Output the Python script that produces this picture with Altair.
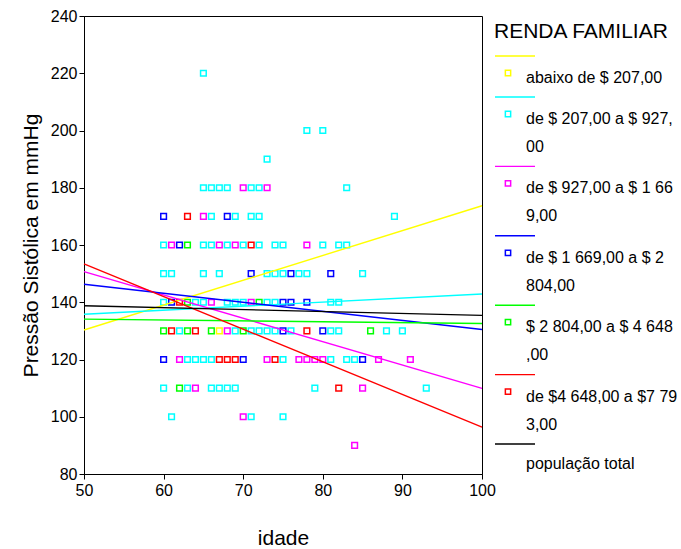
import altair as alt
import pandas as pd

# Income groups (RENDA FAMILIAR) and their colours
groups = [
    "abaixo de $ 207,00",
    "de $ 207,00 a $ 927,00",
    "de $ 927,00 a $ 1 669,00",
    "de $ 1 669,00 a $ 2 804,00",
    "$ 2 804,00 a $ 4 648,00",
    "de $4 648,00 a $7 793,00",
]
total_label = "população total"
colors = ["#FFFF00", "#00FFFF", "#FF00FF", "#0000FF", "#00FF00", "#FF0000"]

# Observations per group: age (idade) and systolic pressure (mmHg)
age_g0 = [67]
pas_g0 = [130]

age_g1 = [65, 78, 80, 73,
          65, 66, 67, 68, 71, 72, 83,
          66, 69, 71, 72, 89,
          60, 65, 66, 68, 70, 72, 74, 75, 80, 82, 83,
          60, 61, 65, 67, 73, 74, 75, 77, 78, 85,
          60, 64, 65, 68, 69, 70, 73, 74, 81, 82,
          62, 69, 71, 72, 73, 74, 76, 81, 82, 88, 90,
          63, 64, 65, 66, 75, 81, 83, 84,
          60, 63, 66, 67, 68, 69, 79, 93,
          61, 71, 75]
pas_g1 = [220, 200, 200, 190,
          180, 180, 180, 180, 180, 180, 180,
          170, 170, 170, 170, 170,
          160, 160, 160, 160, 160, 160, 160, 160, 160, 160, 160,
          150, 150, 150, 150, 150, 150, 150, 150, 150, 150,
          140, 140, 140, 140, 140, 140, 140, 140, 140, 140,
          130, 130, 130, 130, 130, 130, 130, 130, 130, 130, 130,
          120, 120, 120, 120, 120, 120, 120, 120,
          110, 110, 110, 110, 110, 110, 110, 110,
          100, 100, 100]

age_g2 = [70, 73, 65, 61, 67, 69, 78, 66, 71, 68,
          62, 73, 77, 78, 79, 80, 87, 91, 64, 85, 70, 84]
pas_g2 = [180, 180, 170, 160, 160, 160, 160, 140, 140, 130,
          120, 120, 120, 120, 120, 120, 120, 120, 110, 110, 100, 90]

age_g3 = [60, 68, 62, 71, 76, 81, 61, 75, 76, 78, 75, 80, 60, 70, 85]
pas_g3 = [170, 170, 160, 150, 150, 150, 140, 140, 140, 140, 130, 130, 120, 120, 120]

age_g4 = [63, 63, 72, 60, 63, 66, 70, 86, 62]
pas_g4 = [160, 140, 140, 130, 130, 130, 130, 130, 110]

age_g5 = [63, 71, 62, 61, 64, 78, 67, 68, 69, 74, 82]
pas_g5 = [170, 160, 140, 130, 130, 130, 120, 120, 120, 120, 110]

ages = [age_g0, age_g1, age_g2, age_g3, age_g4, age_g5]
pressures = [pas_g0, pas_g1, pas_g2, pas_g3, pas_g4, pas_g5]

# Fitted regression lines: value at age 50 and at age 100
fit_ages = [50, 100]
fit_start = [130.3, 135.8, 150.7, 146.3, 134.1, 153.4, 138.8]
fit_end = [173.7, 142.9, 109.9, 130.5, 132.6, 96.4, 135.4]

rows = []
for g, a_list, p_list in zip(groups, ages, pressures):
    for a, p in zip(a_list, p_list):
        rows.append({"grupo": g, "idade": a, "pas": p})
points = pd.DataFrame(rows)

line_rows = []
for g, s, e in zip(groups + [total_label], fit_start, fit_end):
    line_rows.append({"grupo": g, "idade": fit_ages[0], "pas": s})
    line_rows.append({"grupo": g, "idade": fit_ages[1], "pas": e})
lines = pd.DataFrame(line_rows)

color_scale = alt.Scale(domain=groups + [total_label], range=colors + ["#000000"])

x_enc = alt.X(
    "idade:Q",
    scale=alt.Scale(domain=[50, 100], nice=False, zero=False),
    axis=alt.Axis(values=[50, 60, 70, 80, 90, 100], title="idade",
                  titlePadding=29, labelPadding=3, labelFlush=False),
)
y_enc = alt.Y(
    "pas:Q",
    scale=alt.Scale(domain=[80, 240], nice=False, zero=False),
    axis=alt.Axis(values=list(range(80, 241, 20)), title="Pressão Sistólica em mmHg",
                  titlePadding=9, labelPadding=2, labelFlush=False),
)

pts = alt.Chart(points).mark_point(
    shape="square", filled=False, size=32, strokeWidth=1.5, opacity=1
).encode(
    x=x_enc, y=y_enc,
    color=alt.Color("grupo:N", scale=color_scale, legend=None),
)

fits = alt.Chart(lines).mark_line(strokeWidth=1.4).encode(
    x=x_enc, y=y_enc,
    color=alt.Color("grupo:N", scale=color_scale, legend=None),
    detail="grupo:N",
)

# Legend panel to the right of the plot (pixel offsets from the plot origin)
PLOT_LEFT, PLOT_TOP = 84, 16
leg_rows = []
y_cursor = 56
for g in groups + [total_label]:
    if g == total_label:
        t1, t2 = g, ""
    else:
        t1, t2 = g[:20].rstrip(), g[20:]
    leg_rows.append({
        "grupo": g,
        "y_line": y_cursor - PLOT_TOP,
        "y_sq": y_cursor + 17 - PLOT_TOP,
        "y_t1": y_cursor + (20 if g == total_label else 22) - PLOT_TOP,
        "y_t2": y_cursor + 50 - PLOT_TOP,
        "t1": t1,
        "t2": t2,
        "box": g != total_label,
    })
    y_cursor += 69.4 if t2 else 41
legend = pd.DataFrame(leg_rows)

leg_lines = alt.Chart(legend).mark_rule(strokeWidth=1.4).encode(
    x=alt.value(495 - PLOT_LEFT), x2=alt.value(535 - PLOT_LEFT),
    y=alt.Y("y_line:Q", scale=None),
    color=alt.Color("grupo:N", scale=color_scale, legend=None),
)
leg_boxes = alt.Chart(legend).transform_filter("datum.box").mark_point(
    shape="square", filled=False, size=28, strokeWidth=1.5, opacity=1
).encode(
    x=alt.value(508 - PLOT_LEFT),
    y=alt.Y("y_sq:Q", scale=None),
    color=alt.Color("grupo:N", scale=color_scale, legend=None),
)
leg_t1 = alt.Chart(legend).mark_text(
    align="left", baseline="middle", fontSize=16, color="#000000"
).encode(
    x=alt.value(526 - PLOT_LEFT), y=alt.Y("y_t1:Q", scale=None), text="t1:N",
)
leg_t2 = alt.Chart(legend).transform_filter("datum.t2 != ''").mark_text(
    align="left", baseline="middle", fontSize=16, color="#000000"
).encode(
    x=alt.value(526 - PLOT_LEFT), y=alt.Y("y_t2:Q", scale=None), text="t2:N",
)
leg_title = alt.Chart(pd.DataFrame({"t": ["RENDA FAMILIAR"]})).mark_text(
    align="left", baseline="middle", fontSize=21, color="#000000"
).encode(
    x=alt.value(494 - PLOT_LEFT), y=alt.value(32 - PLOT_TOP), text="t:N",
)

chart = alt.layer(
    pts, fits, leg_lines, leg_boxes, leg_t1, leg_t2, leg_title
).properties(
    width=398,
    height=458,
    autosize="none",
    padding={"left": PLOT_LEFT, "top": PLOT_TOP, "right": 681 - PLOT_LEFT - 398,
             "bottom": 549 - PLOT_TOP - 458},
    background="#FFFFFF",
).configure(
    font="Liberation Sans",
).configure_view(
    stroke="#000000", strokeWidth=1,
).configure_axis(
    grid=False,
    domainColor="#000000", domainWidth=1,
    tickColor="#000000", tickSize=5, tickWidth=1,
    labelColor="#000000", labelFontSize=16, labelFont="Liberation Sans",
    titleColor="#000000", titleFontSize=21, titleFontWeight="normal",
    titleFont="Liberation Sans",
)

chart.save("out.html", embed_options={"renderer": "svg", "actions": False})
